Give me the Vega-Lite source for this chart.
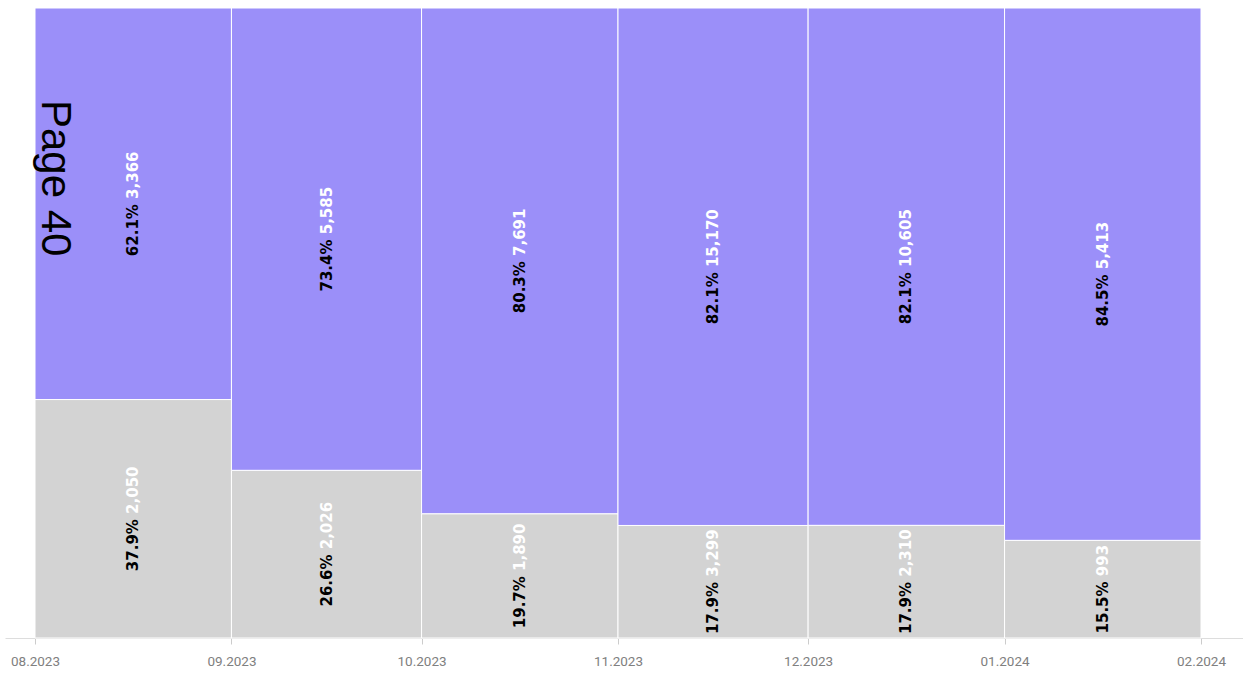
{
  "$schema": "https://vega.github.io/schema/vega-lite/v6.json",
  "width": 1238,
  "height": 630,
  "autosize": {"type": "none"},
  "padding": {"left": 5, "top": 8, "right": 0, "bottom": 39},
  "background": "white",
  "config": {"view": {"stroke": null}},
  "layer": [
    {
      "data": {
        "values": [
          {"month": "2023-08-01", "end": "2023-09-01", "group": "Group 1", "value": 2050, "pct": 0.379},
          {"month": "2023-08-01", "end": "2023-09-01", "group": "Group 2", "value": 3366, "pct": 0.621},
          {"month": "2023-09-01", "end": "2023-10-01", "group": "Group 1", "value": 2026, "pct": 0.266},
          {"month": "2023-09-01", "end": "2023-10-01", "group": "Group 2", "value": 5585, "pct": 0.734},
          {"month": "2023-10-01", "end": "2023-11-01", "group": "Group 1", "value": 1890, "pct": 0.197},
          {"month": "2023-10-01", "end": "2023-11-01", "group": "Group 2", "value": 7691, "pct": 0.803},
          {"month": "2023-11-01", "end": "2023-12-01", "group": "Group 1", "value": 3299, "pct": 0.179},
          {"month": "2023-11-01", "end": "2023-12-01", "group": "Group 2", "value": 15170, "pct": 0.821},
          {"month": "2023-12-01", "end": "2024-01-01", "group": "Group 1", "value": 2310, "pct": 0.179},
          {"month": "2023-12-01", "end": "2024-01-01", "group": "Group 2", "value": 10605, "pct": 0.821},
          {"month": "2024-01-01", "end": "2024-02-01", "group": "Group 1", "value": 993, "pct": 0.155},
          {"month": "2024-01-01", "end": "2024-02-01", "group": "Group 2", "value": 5413, "pct": 0.845}
        ]
      },
      "transform": [
        {"stack": "value", "groupby": ["month"], "offset": "normalize", "sort": [{"field": "group", "order": "ascending"}], "as": ["y0", "y1"]},
        {"calculate": "(datum.y0 + datum.y1) / 2", "as": "ymid"}
      ],
      "layer": [
        {
          "mark": {"type": "bar", "stroke": "white", "strokeWidth": 1},
          "encoding": {
            "x": {
              "field": "month", "type": "temporal",
              "scale": {
                "type": "utc",
                "domain": [
                  {"year": 2023, "month": 7, "date": 27, "hours": 6, "minutes": 22, "utc": true},
                  {"year": 2024, "month": 2, "date": 7, "hours": 15, "minutes": 4, "utc": true}
                ]
              },
              "axis": {
                "title": null,
                "format": "%m.%Y",
                "tickCount": {"interval": "month", "step": 1},
                "labelFont": "Liberation Sans Narrow, Roboto",
                "labelFontSize": 13.5,
                "labelColor": "#808080",
                "domainColor": "#dddddd",
                "tickColor": "#cccccc",
                "tickSize": 6,
                "labelPadding": 10,
                "grid": false,
                "labelOverlap": false
              }
            },
            "x2": {"field": "end"},
            "y": {"field": "y0", "type": "quantitative", "scale": {"domain": [0, 1], "nice": false}, "axis": null},
            "y2": {"field": "y1"},
            "color": {"field": "group", "type": "nominal", "scale": {"domain": ["Group 1", "Group 2"], "range": ["#d3d3d3", "#9b8ff9"]}, "legend": null}
          }
        },
        {
          "mark": {
            "type": "text", "angle": 270, "align": "right", "baseline": "middle",
            "font": "DejaVu Sans", "fontWeight": "bold", "fontSize": 15, "color": "black",
            "dx": {"expr": "23.4 - (10.44 * length(format(datum.value, ',')) - (datum.value >= 1000 ? 4.74 : 0)) / 2"}
          },
          "encoding": {
            "x": {"field": "month", "type": "temporal", "timeUnit": "yearmonth", "bandPosition": 0.5},
            "y": {"field": "ymid", "type": "quantitative"},
            "text": {"field": "pct", "type": "quantitative", "format": ".1%"}
          }
        },
        {
          "mark": {
            "type": "text", "angle": 270, "align": "left", "baseline": "middle",
            "font": "DejaVu Sans", "fontWeight": "bold", "fontSize": 15, "color": "white",
            "dx": {"expr": "28.6 - (10.44 * length(format(datum.value, ',')) - (datum.value >= 1000 ? 4.74 : 0)) / 2"}
          },
          "encoding": {
            "x": {"field": "month", "type": "temporal", "timeUnit": "yearmonth", "bandPosition": 0.5},
            "y": {"field": "ymid", "type": "quantitative"},
            "text": {"field": "value", "type": "quantitative", "format": ","}
          }
        }
      ]
    },
    {
      "data": {"values": [{"t": "Page 40"}]},
      "mark": {"type": "text", "angle": 90, "align": "left", "baseline": "alphabetic", "font": "Liberation Sans", "fontSize": 42, "color": "black"},
      "encoding": {
        "x": {"datum": {"year": 2023, "month": 8, "date": 2, "hours": 3, "utc": true}, "type": "temporal"},
        "y": {"datum": 0.854, "type": "quantitative"},
        "text": {"field": "t"}
      }
    }
  ]
}
